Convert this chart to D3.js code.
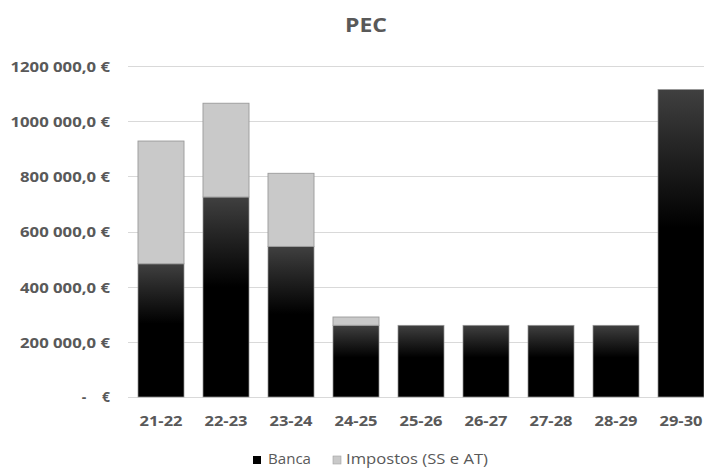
<!DOCTYPE html>
<html><head><meta charset="utf-8">
<script src="https://cdn.jsdelivr.net/npm/d3@7"></script>
<style>body{margin:0;background:#fff;} svg{display:block;font-family:"Open Sans","Noto Sans",sans-serif;}</style>
</head><body>
<svg id="c" width="704" height="468"></svg>
<script>
const categories = ["21-22","22-23","23-24","24-25","25-26","26-27","27-28","28-29","29-30"];
const banca = [483000, 725000, 546000, 260000, 260000, 260000, 260000, 260000, 1115000];
const impostos = [445000, 340000, 265000, 30000, 0, 0, 0, 0, 0];
const yTicks = [0, 200000, 400000, 600000, 800000, 1000000, 1200000];
const seriesNames = ["Banca", "Impostos (SS e AT)"];

const svg = d3.select("#c");
const W = 704, H = 468;
const x = d3.scaleBand().domain(categories).range([128.5, 713.5]).paddingInner(0.292).paddingOuter(0.146);
const y = d3.scaleLinear().domain([0, 1200000]).range([397, 66]);

const defs = svg.append("defs");
const g1 = defs.append("linearGradient").attr("id","gb").attr("x1",0).attr("y1",0).attr("x2",0).attr("y2",1);
g1.append("stop").attr("offset","0%").attr("stop-color","#404040");
g1.append("stop").attr("offset","15%").attr("stop-color","#2a2a2a");
g1.append("stop").attr("offset","45%").attr("stop-color","#000000");
g1.append("stop").attr("offset","100%").attr("stop-color","#000000");

// grid
svg.append("g").selectAll("line").data(yTicks).join("line")
  .attr("x1",128).attr("x2",W).attr("y1",d=>Math.round(y(d))+0.5).attr("y2",d=>Math.round(y(d))+0.5)
  .attr("stroke","#d9d9d9").attr("stroke-width",1);

// y labels: format "# ##0,0 €"
const fmt = v => {
  const ip = Math.floor(v / 1000), rest = String(v % 1000).padStart(3, "0");
  return ip + " " + rest + ",0 €";
};
const yl = svg.append("g").attr("font-size",14).attr("font-weight","bold").attr("fill","#595959");
const texts = [];
yTicks.forEach(v => {
  if (v === 0) {
    yl.append("text").attr("x",84).attr("y",y(v)).attr("dy","0.35em").attr("text-anchor","middle").text("-");
    yl.append("text").attr("x",110).attr("y",y(v)).attr("dy","0.35em").attr("text-anchor","end").text("€");
  } else {
    texts.push(yl.append("text").attr("x",110).attr("y",y(v)+1).attr("dy","0.35em").attr("text-anchor","end").text(fmt(v)));
  }
});
const refW = texts[0].node().getComputedTextLength();
const k = 90 / refW;
texts.forEach(t => {
  const w = t.node().getComputedTextLength();
  t.attr("textLength", w * k).attr("lengthAdjust","spacingAndGlyphs");
});

// bars
const bars = svg.append("g");
categories.forEach((c,i) => {
  const b = banca[i], t = banca[i] + impostos[i];
  bars.append("rect").attr("x",x(c)).attr("width",x.bandwidth())
    .attr("y",y(b)).attr("height",y(0)-y(b))
    .attr("fill","url(#gb)").attr("stroke","#9a9a9a").attr("stroke-width",0.7);
  if (impostos[i] > 0) {
    bars.append("rect").attr("x",x(c)).attr("width",x.bandwidth())
      .attr("y",y(t)).attr("height",y(b)-y(t))
      .attr("fill","#c9c9c9").attr("stroke","#9a9a9a").attr("stroke-width",0.9);
  }
});

// x labels
svg.append("g").selectAll("text").data(categories).join("text")
  .attr("x",d=>x(d)+x.bandwidth()/2).attr("y",421).attr("dy","0.35em").attr("text-anchor","middle")
  .attr("font-size",15).attr("font-weight","bold").attr("fill","#595959")
  .attr("textLength",43).attr("lengthAdjust","spacingAndGlyphs").text(d=>d);

// title
svg.append("text").attr("x",366).attr("y",25).attr("dy","0.35em").attr("text-anchor","middle")
  .attr("font-size",19).attr("font-weight","bold").attr("fill","#595959")
  .attr("textLength",42).attr("lengthAdjust","spacingAndGlyphs").text("PEC");

// legend
const lg = svg.append("g").attr("font-size",14.5).attr("fill","#595959");
lg.append("rect").attr("x",253).attr("y",456).attr("width",8).attr("height",8).attr("fill","#000");
lg.append("text").attr("x",268).attr("y",459).attr("dy","0.35em")
  .attr("textLength",43).attr("lengthAdjust","spacingAndGlyphs").text(seriesNames[0]);
lg.append("rect").attr("x",333).attr("y",456).attr("width",8).attr("height",8).attr("fill","#c9c9c9").attr("stroke","#a0a0a0").attr("stroke-width",0.6);
lg.append("text").attr("x",346).attr("y",459).attr("dy","0.35em")
  .attr("textLength",142).attr("lengthAdjust","spacingAndGlyphs").text(seriesNames[1]);
</script>
</body></html>
